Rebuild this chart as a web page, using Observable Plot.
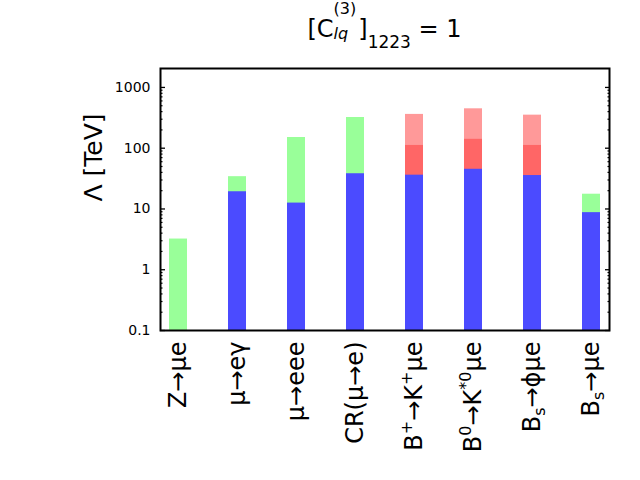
<!DOCTYPE html>
<html>
<head>
<meta charset="utf-8">
<script src="https://cdn.jsdelivr.net/npm/d3@7"></script>
<script src="https://cdn.jsdelivr.net/npm/@observablehq/plot@0.6"></script>
<style>
  html, body { margin: 0; padding: 0; background: white; }
  #chart { width: 640px; height: 480px; }
</style>
</head>
<body>
<div id="chart"></div>
<script>
// ---- data ----
const categories = ["Z→μe", "μ→eγ", "μ→eee", "CR(μ→e)", "B+→K+μe", "B0→K*0μe", "Bs→φμe", "Bs→μe"];
// label segments: [text, kind] where kind = "sup" | "sub" | undefined
const categoryLabels = [
  [["Z→μe"]],
  [["μ→eγ"]],
  [["μ→eee"]],
  [["CR(μ→e)"]],
  [["B"], ["+", "sup"], ["→K"], ["+", "sup"], ["μe"]],
  [["B"], ["0", "sup"], ["→K"], ["*0", "sup"], ["μe"]],
  [["B"], ["s", "sub"], ["→ϕμe"]],
  [["B"], ["s", "sub"], ["→μe"]]
];
const greenValues    = [3.2, 34, 150, 320, null, null, null, 17.5];
const lightRedValues = [null, null, null, null, 360, 445, 350, null];
const redValues      = [null, null, null, null, 111, 140, 111, null];
const blueValues     = [null, 19.2, 12.5, 38, 36, 45, 35.5, 8.7];
const majorTicks = [0.1, 1, 10, 100, 1000];
const majorTickLabels = ["0.1", "1", "10", "100", "1000"];
const minorTicks = [0.1, 1, 10, 100].flatMap(d => [2, 3, 4, 5, 6, 7, 8, 9].map(k => d * k));
const yLabel = "Λ [TeV]";

const toRows = vals => categories.map((c, i) => ({cat: c, v: vals[i]})).filter(d => d.v != null);

const chart = Plot.plot({
  width: 640,
  height: 480,
  marginLeft: 160,
  marginRight: 31,
  marginTop: 68,
  marginBottom: 150,
  style: {fontFamily: "DejaVu Sans", background: "white", color: "black"},
  x: {domain: categories, paddingInner: 0.696, paddingOuter: 0.145, label: null},
  y: {type: "log", domain: [0.1, 2050], label: null},
  marks: [
    Plot.barY(toRows(greenValues), {x: "cat", y1: () => 0.1, y2: "v", fill: "#99ff99"}),
    Plot.barY(toRows(lightRedValues), {x: "cat", y1: () => 0.1, y2: "v", fill: "#ff9999"}),
    Plot.barY(toRows(redValues), {x: "cat", y1: () => 0.1, y2: "v", fill: "#ff6666"}),
    Plot.barY(toRows(blueValues), {x: "cat", y1: () => 0.1, y2: "v", fill: "#4b4bff"}),
    Plot.axisY({anchor: "left", ticks: majorTicks, tickSize: 0, tickPadding: 10,
      tickFormat: d => majorTickLabels[majorTicks.indexOf(d)], fontSize: 14, label: null}),
    Plot.axisY({anchor: "left", ticks: majorTicks, tickSize: -5, fill: "none", strokeWidth: 1.3}),
    Plot.axisY({anchor: "left", ticks: minorTicks, tickSize: -2.5, fill: "none", strokeWidth: 1.2}),
    Plot.axisY({anchor: "right", ticks: majorTicks, tickSize: -5, fill: "none", strokeWidth: 1.3}),
    Plot.axisY({anchor: "right", ticks: minorTicks, tickSize: -2.5, fill: "none", strokeWidth: 1.2}),
    Plot.axisX({anchor: "bottom", tickSize: 0, tickPadding: 11, tickRotate: -90, fontSize: 24, label: null}),
    Plot.frame({stroke: "black", strokeWidth: 2}),
    Plot.text([yLabel], {frameAnchor: "left", rotate: -90, dx: -67, dy: 2, fontSize: 25, fill: "black"})
  ]
});

document.getElementById("chart").appendChild(chart);
const svg = d3.select(chart);

// rich x tick labels (superscripts / subscripts)
svg.selectAll('g[aria-label="x-axis tick label"] text').each(function(_, i) {
  const t = d3.select(this);
  const segs = categoryLabels[i];
  if (!segs) return;
  t.text(null);
  for (const [s, kind] of segs) {
    const ts = t.append("tspan").text(s);
    if (kind === "sup") ts.attr("font-size", 16).attr("baseline-shift", 10);
    if (kind === "sub") ts.attr("font-size", 16).attr("baseline-shift", -5);
  }
});

// title: [C_{lq}^{(3)}]_{1223} = 1
const title = svg.append("text")
  .attr("x", 384.5).attr("y", 37)
  .attr("text-anchor", "middle")
  .attr("font-family", "DejaVu Sans")
  .attr("font-size", 24)
  .attr("fill", "black");
title.append("tspan").text("[C");
const sup = title.append("tspan").attr("font-size", 16).attr("dy", -23).text("(3)");
const supW = sup.node().getComputedTextLength();
const sub = title.append("tspan").attr("font-size", 16).attr("font-style", "italic")
  .attr("dx", -supW).attr("dy", 25).text("lq");
const subW = sub.node().getComputedTextLength();
title.append("tspan").attr("dx", Math.max(0, supW - subW) + 2).attr("dy", -2).text("]");
title.append("tspan").attr("font-size", 17).attr("dy", 11).text("1223");
title.append("tspan").attr("dy", -11).text(" = 1");
</script>
</body>
</html>
